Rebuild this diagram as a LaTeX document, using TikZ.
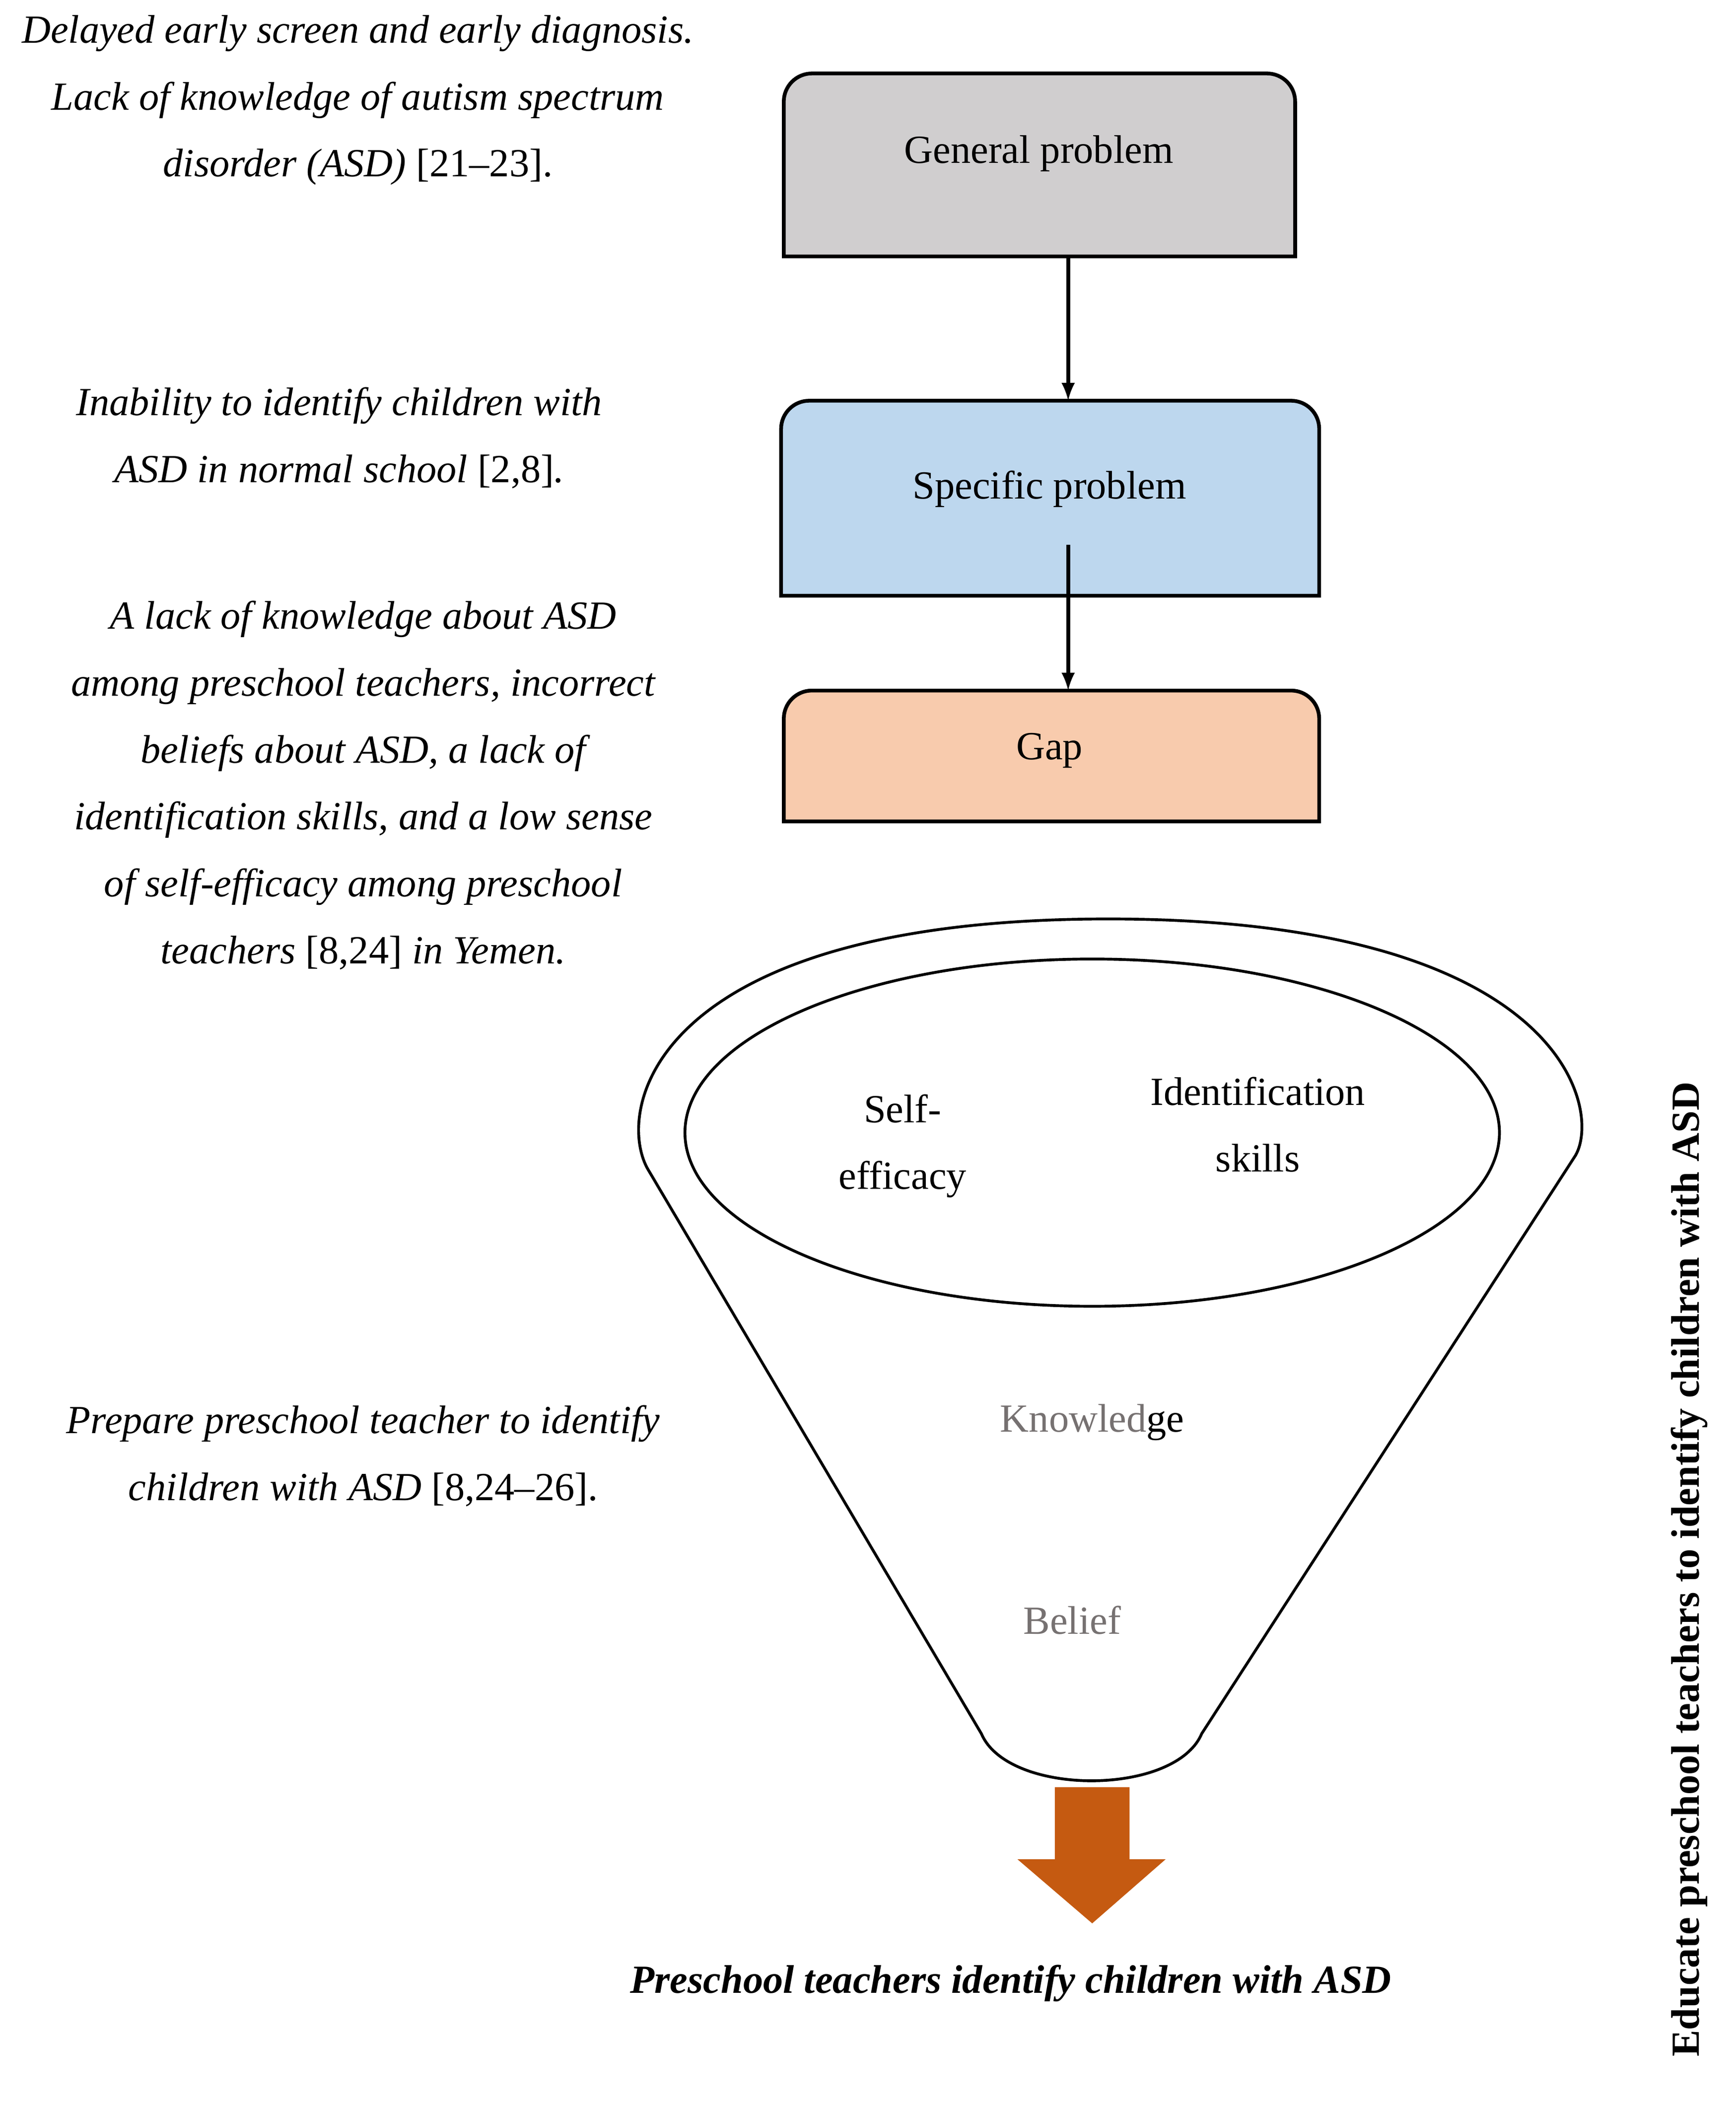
\documentclass[tikz,border=0pt]{standalone}
\usepackage{fontspec}
\setmainfont{Liberation Serif}
\usetikzlibrary{positioning,calc,shapes}
\definecolor{boxgray}{RGB}{208,206,207}
\definecolor{boxblue}{RGB}{189,215,238}
\definecolor{boxorange}{RGB}{248,203,173}
\definecolor{arrorange}{RGB}{197,90,17}
\definecolor{txtgray}{RGB}{118,113,113}
\begin{document}
\begin{tikzpicture}[x=0.02cm,y=-0.02cm,
  box/.style={draw,line width=1.6pt,rounded corners=12pt},
  note/.style={font=\fontsize{17}{28.5}\selectfont\itshape,align=center},
  label/.style={font=\fontsize{17}{28.5}\selectfont,align=center}]
\useasboundingbox (0,0) rectangle (1300,1582);

% Boxes (rounded on top only)
\draw[box,fill=boxgray] (587,192) -- (587,55) -- (970,55) [sharp corners]-- (970,192) -- cycle;
\draw[box,fill=boxblue] (585,446) -- (585,300) -- (988,300) [sharp corners]-- (988,446) -- cycle;
\draw[box,fill=boxorange] (587,615) -- (587,517) -- (988,517) [sharp corners]-- (988,615) -- cycle;
\node[label] (general) at (778,115) {General problem};
\node[label] (specific) at (786,366) {Specific problem};
\node[label] (gap) at (786,562) {Gap};
\coordinate (gentop) at (800,192);
\coordinate (spectop) at (800,300);
\coordinate (specmid) at (800,408);
\coordinate (gaptop) at (800,517);
\draw[line width=1.6pt,-latex] (gentop) -- (spectop);
\draw[line width=1.6pt,-latex] (specmid) -- (gaptop);

% Left notes
\node[note] (n1) at (268,75) {Delayed early screen and early diagnosis.\\Lack of knowledge of autism spectrum\\disorder (ASD) \upshape[21--23].};
\node[note] (n2) at (254,328) {Inability to identify children with\\ASD in normal school \upshape[2,8]\itshape.};
\node[note] (n3) at (272,588) {A lack of knowledge about ASD\\among preschool teachers, incorrect\\beliefs about ASD, a lack of\\identification skills, and a low sense\\of self-efficacy among preschool\\teachers \upshape[8,24]\itshape{} in Yemen.};
\node[note] (n4) at (272,1090) {Prepare preschool teacher to identify\\children with ASD \upshape[8,24--26].};

% Funnel
\draw[line width=1.2pt] (735,1298) -- (485,875) .. controls (460,830) and (490,688) .. (830,688)
  .. controls (1170,688) and (1200,830) .. (1180,865) -- (900,1298)
  .. controls (880,1345) and (755,1345) .. (735,1298);
\draw[line width=1.2pt] (818,848) ellipse [x radius=305, y radius=130];
\node[label] (self) at (676,858) {Self-\\efficacy};
\node[label] (ident) at (942,842) {Identification\\skills};
\node[label,text=txtgray] (know) at (818,1065) {Knowled\textcolor{black}{ge}};
\node[label,text=txtgray] (belief) at (803,1213) {Belief};

% Outcome arrow
\fill[arrorange] (790,1338) -- (846,1338) -- (846,1392) -- (873,1392) -- (818,1440) -- (762,1392) -- (790,1392) -- cycle;
\node[font=\fontsize{17}{28}\selectfont\bfseries\itshape] (outcome) at (757,1485) {Preschool teachers identify children with ASD};
\node[font=\fontsize{17}{28}\selectfont\bfseries,rotate=90] (side) at (1265,1175) {Educate preschool teachers to identify children with ASD};
\end{tikzpicture}
\end{document}
